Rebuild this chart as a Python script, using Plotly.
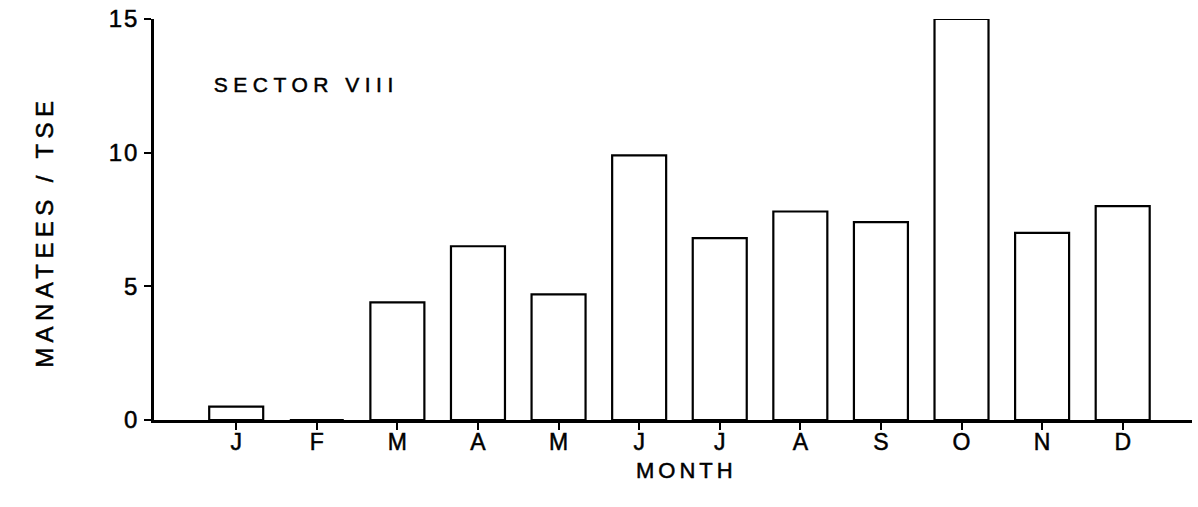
import plotly.graph_objects as go

# Monthly manatee counts per TSE, sector VIII
months = ["J", "F", "M", "A", "M", "J", "J", "A", "S", "O", "N", "D"]
manatees_per_tse = [0.5, 0.0, 4.4, 6.5, 4.7, 9.9, 6.8, 7.8, 7.4, 15.0, 7.0, 8.0]
y_ticks = [0, 5, 10, 15]

x_pos = list(range(len(months)))
FONT = "Liberation Sans, Arial, sans-serif"

fig = go.Figure(
    go.Bar(
        x=x_pos,
        y=manatees_per_tse,
        width=0.67,
        marker=dict(color="white", line=dict(color="black", width=2.2)),
        hoverinfo="skip",
    )
)

fig.update_layout(
    width=1198,
    height=507,
    margin=dict(l=154, r=6, t=19, b=87),
    paper_bgcolor="white",
    plot_bgcolor="white",
    showlegend=False,
    font=dict(family=FONT, color="black", size=22),
)

fig.update_xaxes(
    range=[-1.02, 11.86],
    tickvals=x_pos,
    ticktext=months,
    ticks="outside",
    ticklen=7,
    tickwidth=2,
    tickcolor="black",
    ticklabelstandoff=-8,
    showline=True,
    linewidth=3,
    linecolor="black",
    showgrid=False,
    zeroline=False,
    tickfont=dict(size=23, family=FONT, color="black"),
)

fig.update_yaxes(
    range=[0, 15],
    tickvals=y_ticks,
    ticks="outside",
    ticklen=7,
    tickwidth=2,
    tickcolor="black",
    showline=True,
    linewidth=2.5,
    linecolor="black",
    showgrid=False,
    zeroline=False,
    tickfont=dict(size=24, family=FONT, color="black"),
)

fig.add_annotation(
    text="SECTOR VIII", xref="paper", yref="paper",
    x=(306 - 154) / 1038, y=(420 - 85) / 401,
    xanchor="center", yanchor="middle", showarrow=False,
    font=dict(size=21, family=FONT, color="black"),
)
fig.add_annotation(
    text="MANATEES / TSE", xref="paper", yref="paper",
    x=(44 - 154) / 1038, y=(420 - 232) / 401,
    xanchor="center", yanchor="middle", textangle=-90, showarrow=False,
    font=dict(size=24, family=FONT, color="black"),
)
fig.add_annotation(
    text="MONTH", xref="paper", yref="paper",
    x=(686 - 154) / 1038, y=(420 - 470) / 401,
    xanchor="center", yanchor="middle", showarrow=False,
    font=dict(size=22, family=FONT, color="black"),
)

# wider letter spacing and a slightly heavier stroke for the lettering
post = """
var gd = document.getElementById('{plot_id}');
var spacing = [['SECTOR VIII', '5.5px'], ['MANATEES / TSE', '5.4px'], ['MONTH', '4px']];
gd.querySelectorAll('.annotation-text').forEach(function(t){
  spacing.forEach(function(s){ if (t.textContent === s[0]) { t.style.letterSpacing = s[1]; } });
});
gd.querySelectorAll('.annotation-text, .xtick text, .ytick text').forEach(function(t){
  t.style.stroke = 'black';
  t.style.strokeWidth = '0.5px';
});
gd.querySelectorAll('.ytick text').forEach(function(t){ t.style.letterSpacing = '2px'; });
"""

fig.write_html("out.html", post_script=post)
